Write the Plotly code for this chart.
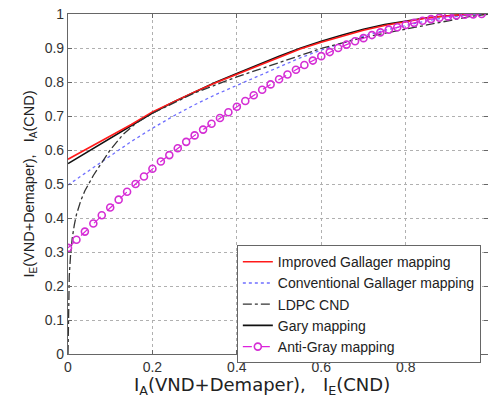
import plotly.graph_objects as go

# ---------------- data ----------------
curve_x = [0.0, 0.05, 0.1, 0.15, 0.2, 0.25, 0.3, 0.35, 0.4, 0.45, 0.5,
           0.55, 0.6, 0.65, 0.7, 0.75, 0.8, 0.85, 0.9, 0.95, 1.0]
improved_gallager = [0.573, 0.607, 0.641, 0.675, 0.712, 0.742, 0.771, 0.798, 0.823, 0.849, 0.874,
                     0.897, 0.917, 0.935, 0.952, 0.966, 0.978, 0.988, 0.995, 0.999, 1.0]
conventional_gallager = [0.497, 0.540, 0.583, 0.625, 0.664, 0.700, 0.733, 0.763, 0.790, 0.817, 0.845,
                         0.871, 0.894, 0.915, 0.935, 0.952, 0.967, 0.980, 0.990, 0.997, 1.0]
gray_mapping = [0.560, 0.597, 0.634, 0.671, 0.709, 0.741, 0.771, 0.799, 0.825, 0.851, 0.876,
                0.899, 0.920, 0.938, 0.955, 0.969, 0.980, 0.989, 0.995, 0.999, 1.0]

ldpc_x = [0.0, 0.001, 0.003, 0.006, 0.01, 0.015, 0.02, 0.03, 0.04, 0.06, 0.08, 0.10,
          0.13, 0.16, 0.2, 0.3, 0.4, 0.5, 0.6, 0.7, 0.8, 0.9, 0.95, 1.0]
ldpc_cnd = [0.0, 0.15, 0.23, 0.29, 0.34, 0.38, 0.41, 0.45, 0.48, 0.525, 0.563, 0.60,
            0.645, 0.678, 0.708, 0.768, 0.815, 0.858, 0.899, 0.931, 0.956, 0.981, 0.992, 1.0]

anti_x = [0.00, 0.02, 0.04, 0.06, 0.08, 0.10, 0.12, 0.14, 0.16, 0.18,
          0.20, 0.22, 0.24, 0.26, 0.28, 0.30, 0.32, 0.34, 0.36, 0.38,
          0.40, 0.42, 0.44, 0.46, 0.48, 0.50, 0.52, 0.54, 0.56, 0.58,
          0.60, 0.62, 0.64, 0.66, 0.68, 0.70, 0.72, 0.74, 0.76, 0.78,
          0.80, 0.82, 0.84, 0.86, 0.88, 0.90, 0.92, 0.94, 0.96, 0.98]
anti_gray = [0.312, 0.336, 0.360, 0.384, 0.408, 0.431, 0.454, 0.477, 0.500, 0.522,
             0.545, 0.566, 0.585, 0.605, 0.624, 0.643, 0.660, 0.677, 0.694, 0.711,
             0.727, 0.744, 0.761, 0.777, 0.793, 0.808, 0.822, 0.836, 0.850, 0.863,
             0.876, 0.888, 0.900, 0.910, 0.920, 0.929, 0.938, 0.946, 0.954, 0.961,
             0.968, 0.974, 0.980, 0.985, 0.989, 0.993, 0.996, 0.998, 0.999, 1.0]

x_ticks = [0, 0.2, 0.4, 0.6, 0.8]
x_tick_labels = ["0", "0.2", "0.4", "0.6", "0.8"]
y_ticks = [0, 0.1, 0.2, 0.3, 0.4, 0.5, 0.6, 0.7, 0.8, 0.9, 1.0]
y_tick_labels = ["0", "0.1", "0.2", "0.3", "0.4", "0.5", "0.6", "0.7", "0.8", "0.9", "1"]

x_title = "I<sub>A</sub>(VND+Demaper),   I<sub>E</sub>(CND)"
y_title = "I<sub>E</sub>(VND+Demaper),   I<sub>A</sub>(CND)"

# ---------------- figure ----------------
fig = go.Figure()
fig.add_trace(go.Scatter(x=curve_x, y=gray_mapping, mode="lines",
                         name="Gary mapping", legendrank=4,
                         line=dict(color="#111111", width=1.6)))
fig.add_trace(go.Scatter(x=curve_x, y=improved_gallager, mode="lines",
                         name="Improved Gallager mapping", legendrank=1,
                         line=dict(color="#ff1a1a", width=1.6)))
fig.add_trace(go.Scatter(x=curve_x, y=conventional_gallager, mode="lines",
                         name="Conventional Gallager mapping", legendrank=2,
                         line=dict(color="#6f6fff", width=1.3, dash="dot")))
fig.add_trace(go.Scatter(x=ldpc_x, y=ldpc_cnd, mode="lines",
                         name="LDPC CND", legendrank=3,
                         line=dict(color="#333333", width=1.3, dash="dashdot")))
fig.add_trace(go.Scatter(x=anti_x, y=anti_gray, mode="lines+markers",
                         name="Anti-Gray mapping", legendrank=5,
                         line=dict(color="#dd22dd", width=1.2, dash="dash"),
                         marker=dict(symbol="circle-open", size=7,
                                     color="#d42ed4", line=dict(width=1.6))))

axis_common = dict(
    showgrid=True, gridcolor="#b0b0b0", griddash="dot", gridwidth=1,
    showline=True, linecolor="#666666", linewidth=1.2, mirror="ticks",
    ticks="inside", ticklen=4, tickcolor="#666666",
    tickfont=dict(family="Liberation Sans, Arial, sans-serif", size=14, color="#333333"),
    zeroline=False,
)

fig.update_xaxes(range=[0, 0.995], tickvals=x_ticks, ticktext=x_tick_labels,
                 **axis_common)
fig.update_yaxes(range=[0, 1], tickvals=y_ticks, ticktext=y_tick_labels,
                 title=dict(text=y_title,
                            font=dict(family="Liberation Sans, Arial, sans-serif", size=14.5,
                                      color="#222222"), standoff=6),
                 **axis_common)

fig.add_annotation(text=x_title, xref="paper", yref="paper",
                   x=0.462, y=-0.093, xanchor="center", yanchor="middle",
                   showarrow=False,
                   font=dict(family="DejaVu Sans, sans-serif", size=18, color="#222222"))

fig.update_layout(
    width=488, height=396,
    margin=dict(l=68, r=0, t=14, b=42),
    plot_bgcolor="white", paper_bgcolor="white",
    showlegend=True,
    legend=dict(x=0.402, y=0.32, xanchor="left", yanchor="top",
                bgcolor="white", bordercolor="#666666", borderwidth=1,
                font=dict(family="Liberation Sans, Arial, sans-serif", size=14, color="#222222"),
                tracegroupgap=0, itemwidth=30),
)

fig.write_html("out.html")
